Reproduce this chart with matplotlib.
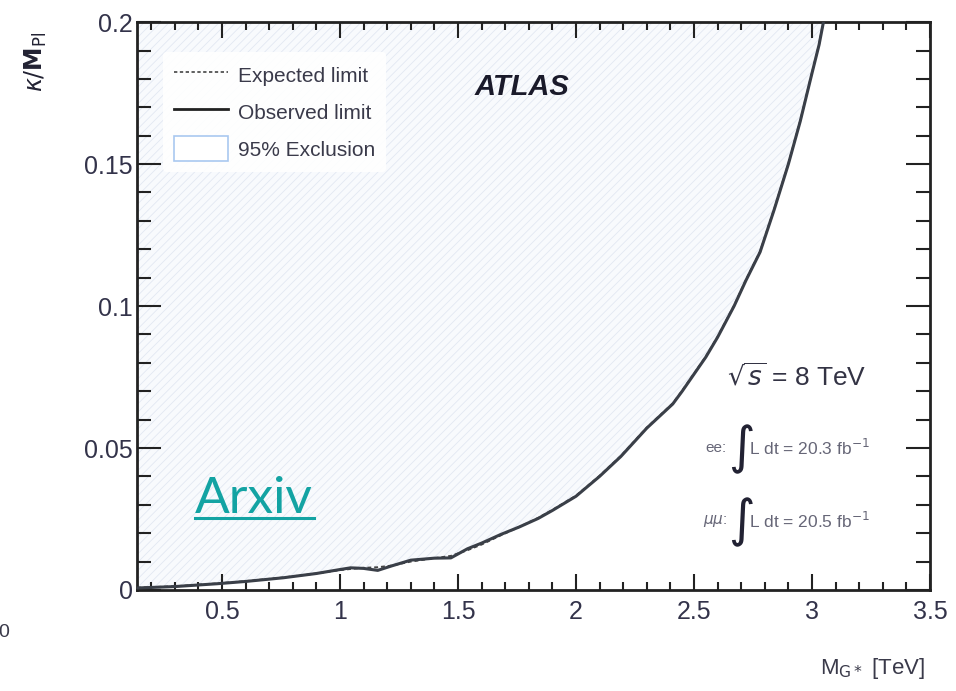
import matplotlib.pyplot as plt
from matplotlib.patches import Patch
from matplotlib.lines import Line2D
from matplotlib.ticker import MultipleLocator

plt.rcParams['font.family'] = ['Liberation Sans', 'DejaVu Sans']
plt.rcParams['hatch.linewidth'] = 0.6

# Graviton mass [TeV] and coupling limit k/M_Pl
mass = [0.14, 0.30, 0.48, 0.60, 0.76, 0.90, 1.00, 1.045, 1.10, 1.16, 1.22,
        1.30, 1.40, 1.47, 1.54, 1.60, 1.68, 1.76, 1.84, 1.90, 2.00, 2.10,
        2.19, 2.30, 2.41, 2.45, 2.50, 2.55, 2.60, 2.67, 2.72, 2.78, 2.84,
        2.90, 2.95, 3.00, 3.03, 3.06]
observed = [0.0007, 0.0012, 0.0022, 0.0030, 0.0043, 0.0058, 0.0072, 0.0078,
            0.0076, 0.0069, 0.0085, 0.0105, 0.0112, 0.0113, 0.0145, 0.0165,
            0.0195, 0.0222, 0.0252, 0.0280, 0.0330, 0.0400, 0.0470, 0.0570,
            0.0655, 0.0700, 0.0760, 0.0820, 0.0890, 0.1000, 0.1090, 0.1190,
            0.1340, 0.1500, 0.1650, 0.1820, 0.1920, 0.2050]
expected = [0.0008, 0.0013, 0.0023, 0.0031, 0.0044, 0.0058, 0.0070, 0.0074,
            0.0078, 0.0080, 0.0086, 0.0100, 0.0112, 0.0120, 0.0140, 0.0160,
            0.0192, 0.0222, 0.0254, 0.0282, 0.0332, 0.0402, 0.0472, 0.0572,
            0.0657, 0.0702, 0.0762, 0.0822, 0.0892, 0.1002, 0.1092, 0.1192,
            0.1342, 0.1502, 0.1652, 0.1822, 0.1922, 0.2052]

fig = plt.figure(figsize=(9.56, 6.91), dpi=100)
ax = fig.add_axes([0.1433, 0.1462, 0.8295, 0.8218])

# excluded region above the observed limit
ax.fill_between(mass, observed, 0.25, facecolor='#f8fafd', edgecolor='#e2e8f2',
                hatch='////', linewidth=0, zorder=1)
ax.plot(mass, expected, color='#444444', linestyle=(0, (2, 1.5)), linewidth=1.4, zorder=2)
ax.plot(mass, observed, color='#3a3f48', linewidth=2.2, zorder=3)

ax.set_xlim(0.14, 3.5)
ax.set_ylim(0, 0.2)
ax.xaxis.set_major_locator(MultipleLocator(0.5))
ax.xaxis.set_minor_locator(MultipleLocator(0.1))
ax.yaxis.set_major_locator(MultipleLocator(0.05))
ax.yaxis.set_minor_locator(MultipleLocator(0.01))
ax.xaxis.set_major_formatter(lambda v, p: f'{v:g}')
ax.yaxis.set_major_formatter(lambda v, p: f'{v:g}')
ax.tick_params(which='both', direction='in', top=True, right=True,
               colors='#222222', width=1.5, labelsize=18, labelcolor='#33334a')
ax.tick_params(axis='x', which='major', length=11.5, pad=7)
ax.tick_params(axis='x', which='minor', length=6)
ax.tick_params(axis='y', which='major', length=17, pad=3)
ax.tick_params(axis='y', which='minor', length=10)
for s in ax.spines.values():
    s.set_linewidth(2)
    s.set_color('#222222')

handles = [Line2D([], [], color='#444444', linestyle=(0, (2, 1.5)), linewidth=1.2),
           Line2D([], [], color='#222222', linewidth=2),
           Patch(facecolor='white', edgecolor='#a9c8f0', linewidth=1.2)]
labels = ['Expected limit', 'Observed limit', '95% Exclusion']
leg = ax.legend(handles, labels, loc='upper left', bbox_to_anchor=(0.02, 0.966),
                frameon=True, fontsize=15, handlelength=2.6, handleheight=1.5,
                labelspacing=0.55, handletextpad=0.5, borderpad=0.5)
leg.get_frame().set_facecolor('white')
leg.get_frame().set_edgecolor('none')
leg.get_frame().set_alpha(0.9)
for t in leg.get_texts():
    t.set_color('#3a3a4a')

ax.text(0.426, 0.872, 'ATLAS', transform=ax.transAxes, fontsize=21,
        fontweight='bold', fontstyle='italic', color='#1a1a2a')
ax.text(0.744, 0.36, r'$\sqrt{s}$ = 8 TeV', transform=ax.transAxes,
        fontsize=19, color='#333344')

# luminosity lines, integral sign drawn larger than the rest
lumi_y = [0.25, 0.122]
lumi_ch = ['ee:', r'$\mu\mu$:']
lumi_val = [r'L dt = 20.3 fb$^{-1}$', r'L dt = 20.5 fb$^{-1}$']
for y, ch, val in zip(lumi_y, lumi_ch, lumi_val):
    ax.text(0.744, y, ch, transform=ax.transAxes, fontsize=11,
            color='#666677', va='center', ha='right')
    ax.text(0.745, y - 0.003, r'$\int$', transform=ax.transAxes, fontsize=26,
            color='#222233', va='center')
    ax.text(0.772, y, val, transform=ax.transAxes, fontsize=12.5,
            color='#666677', va='center')

fig.text(0.204, 0.258, 'Arxiv', fontsize=37, color='#13a3a3',
         family=['Lato', 'DejaVu Sans'])
fig.add_artist(Line2D([0.204, 0.328], [0.2505, 0.2505], color='#13a3a3', linewidth=2.2))

fig.text(0.038, 0.91, r'$\kappa/\mathbf{M}_{\mathrm{Pl}}$', rotation=90,
         fontsize=17, color='#222233', ha='center', va='center')
fig.text(0.968, 0.025, r'M$_{\mathrm{G*}}$ [TeV]', fontsize=16,
         color='#3a3a4a', ha='right')
fig.text(-0.002, 0.078, '0', fontsize=14, color='#3a3a4a')

fig.savefig('out.png', dpi=100)
